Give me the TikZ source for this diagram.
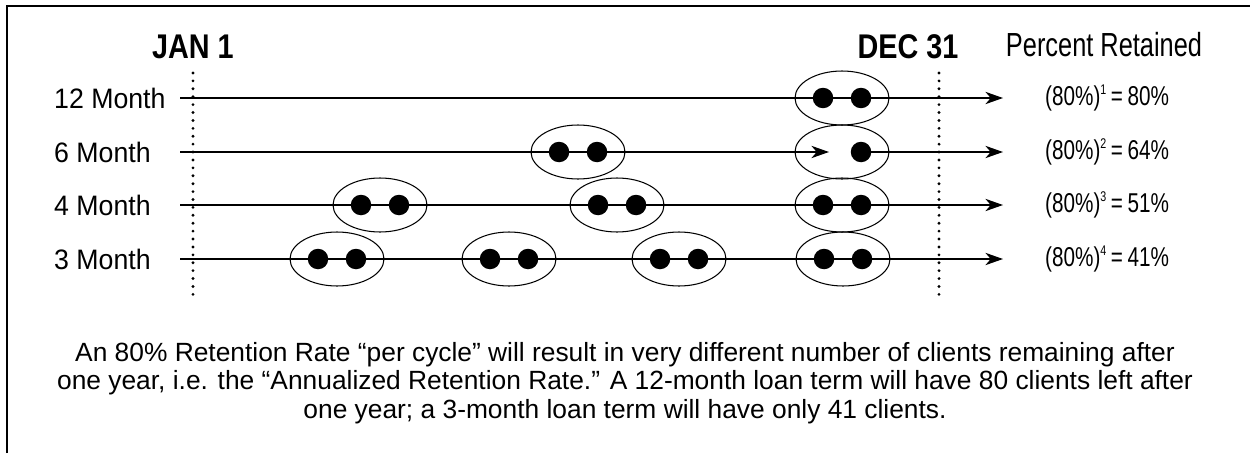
\documentclass[tikz,border=0pt]{standalone}
\usepackage{fontspec}
\setmainfont{Liberation Sans}
\newfontfamily\narrowfont{Liberation Sans}[FakeStretch=0.76]
\newfontfamily\headfont{Liberation Sans}[FakeStretch=0.84]
\newfontfamily\rowfont{Liberation Sans}[FakeStretch=0.95]
\usetikzlibrary{shapes,arrows.meta,positioning}

\begin{document}
\begin{tikzpicture}[x=0.02cm, y=-0.02cm, >={Stealth[length=10pt,width=7pt,inset=3pt]},
    term/.style={line width=0.85pt},
    cycle/.style={draw, ellipse, line width=0.6pt, inner sep=0pt, minimum width=1.88cm, minimum height=1.08cm},
    client/.style={circle, fill=black, inner sep=0pt, minimum size=0.41cm},
    yearmark/.style={line width=1.8pt, line cap=round, dash pattern=on 0pt off 4.5pt},
    heading/.style={font=\headfont\bfseries\fontsize{19.5}{22}\selectfont}]
\useasboundingbox (0,0) rectangle (1250,453);
% frame
\draw[line width=0.8pt] (7,453) -- (7,6) -- (1250,6);
% headings
\node[heading] (jan) at (193,47) {JAN 1};
\node[heading] (dec) at (908,47) {DEC 31};
\node[font=\narrowfont\fontsize{19}{22}\selectfont] (retained) at (1104,45) {Percent Retained};
% year boundaries
\draw[yearmark] (193,73) -- (193,298);
\draw[yearmark] (939,73) -- (939,298);
% loan terms and results
\foreach \y/\lab/\n/\pct in {98/12 Month/1/80, 152/6 Month/2/64, 205/4 Month/3/51, 259/3 Month/4/41} {
    \node[anchor=west, font=\rowfont\fontsize{16}{18}\selectfont] (term\n) at (48,\y) {\lab};
    \node[anchor=west, font=\narrowfont\fontsize{15.5}{17}\selectfont] (pct\n) at (1039,\y)
        {(80\%)\raisebox{0.42em}{\fontsize{8}{8}\selectfont\n}\,=\,\pct\%};
    \coordinate (start\n) at (180,\y);
    \coordinate (end\n) at (1003,\y);
}
\coordinate (mid2) at (829,152);
% time lines
\draw[term,->] (start1) -- (end1);
\draw[term,->] (start2) -- (mid2);
\draw[term,->] (861,152) -- (end2);
\draw[term,->] (start3) -- (end3);
\draw[term,->] (start4) -- (end4);
% cycles
\foreach \x/\y/\n in {842/98/a, 578/152/b, 380/205/c, 617/205/d, 842/205/e,
                      337/259/f, 509/259/g, 679/259/h, 843/259/i} {
    \node[cycle] (cyc\n) at (\x,\y) {};
    \node[client] (cyc\n-l) at ({\x-19},\y) {};
    \node[client] (cyc\n-r) at ({\x+19},\y) {};
}
\node[cycle] (cycz) at (842,152) {};
\node[client] (cycz-r) at (861,152) {};
% note
\node[align=center, font=\fontsize{15}{16.3}\selectfont] (note) at (625,383)
  {An 80\% Retention Rate “per cycle” will result in very different number of clients remaining after\\
   one year, i.e. the “Annualized Retention Rate.” A 12-month loan term will have 80 clients left after\\
   one year; a 3-month loan term will have only 41 clients.};
\end{tikzpicture}
\end{document}
